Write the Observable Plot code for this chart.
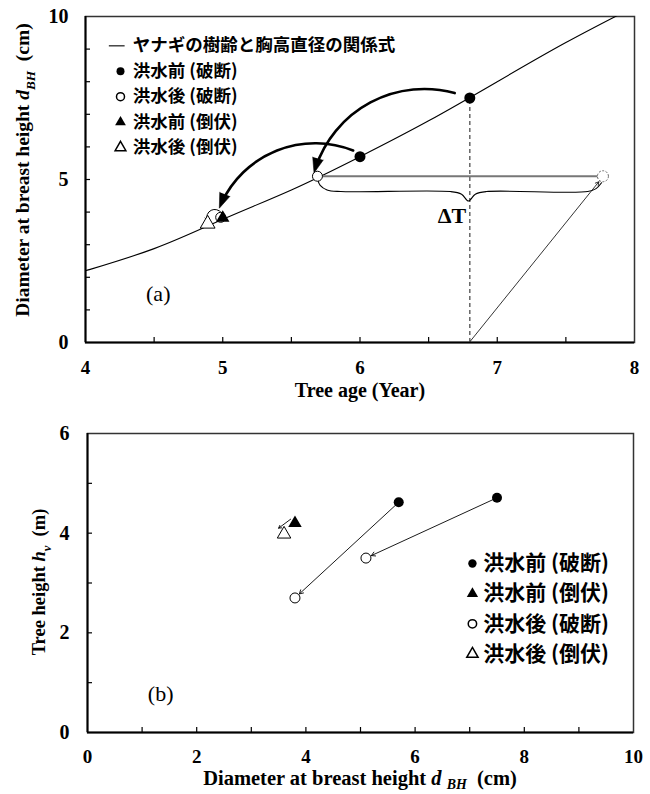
<!DOCTYPE html>
<html><head><meta charset="utf-8">
<script src="https://cdn.jsdelivr.net/npm/d3@7"></script>
<script src="https://cdn.jsdelivr.net/npm/@observablehq/plot@0.6"></script>
<style>
body{margin:0;background:#fff;width:650px;}
#a,#b{width:650px;height:auto;}
svg{display:block;}
</style>
</head><body>
<div id="a"></div><div id="b"></div>
<script>
// ===== Panel (a): tree age vs DBH =====
const ageTicks = [4, 5, 6, 7, 8];
const ageMinorTicks = [4.5, 5, 5.5, 6, 6.5, 7, 7.5];
const dbhTicks = [0, 5, 10];
const dbhMinorTicks = [1, 2, 3, 4, 5, 6, 7, 8, 9];

// relation curve
const curveAge = [3.95, 4.0, 4.5, 5.0, 5.5, 6.0, 6.5, 7.0, 7.5, 8.0];
const curveDbh = [2.12, 2.2, 2.88, 3.78, 4.68, 5.7, 6.8, 8.0, 9.2, 10.3];

// points
const aBeforeBreakAge = [6.8, 6.0];
const aBeforeBreakDbh = [7.5, 5.7];
const aAfterBreakAge = [5.69, 4.985];
const aAfterBreakDbh = [5.1, 3.84];
const aBeforeFallAge = [5.0];
const aBeforeFallDbh = [3.82];
const aAfterFallAge = [4.89];
const aAfterFallDbh = [3.64];
const aShiftedAge = [7.77];
const aShiftedDbh = [5.1];

// annotations
const arcStartAge = [6.69, 5.95];
const arcStartDbh = [7.65, 5.89];
const arcEndAge = [5.665, 4.975];
const arcEndDbh = [5.2, 4.12];
const arcBend = -45;
const loopStartAge = [4.99];
const loopStartDbh = [3.98];
const loopEndAge = [4.885];
const loopEndDbh = [3.76];
const guideAge = [6.8];
const guideTop = [7.5];
const slantStartAge = [6.8], slantStartDbh = [0.02];
const slantEndAge = [7.74], slantEndDbh = [4.93];
const braceAge = [5.69, 5.71, 5.76, 5.86, 6.66, 6.74, 6.79, 6.84, 6.92, 7.66, 7.72, 7.76];
const braceDbh = [5.02, 4.82, 4.68, 4.63, 4.63, 4.55, 4.34, 4.55, 4.63, 4.63, 4.72, 4.9];
const deltaLabel = ["ΔT"];
const deltaAge = [6.67], deltaDbh = [3.87];
const panelA = ["(a)"];

const legendA = ["ヤナギの樹齢と胸高直径の関係式", "洪水前 (破断)", "洪水後 (破断)", "洪水前 (倒伏)", "洪水後 (倒伏)"];

// ===== Panel (b): DBH vs tree height =====
const dTicks = [0, 2, 4, 6, 8, 10];
const dMinorTicks = [1, 2, 3, 4, 5, 6, 7, 8, 9];
const hTicks = [0, 2, 4, 6];
const hMinorTicks = [1, 2, 3, 4, 5];

const bBeforeBreakD = [5.7, 7.5];
const bBeforeBreakH = [4.62, 4.71];
const bAfterBreakD = [3.8, 5.1];
const bAfterBreakH = [2.7, 3.5];
const bBeforeFallD = [3.8];
const bBeforeFallH = [4.2];
const bAfterFallD = [3.6];
const bAfterFallH = [3.98];
const bArrowFromD = [3.72];
const bArrowFromH = [4.28];
const bArrowToD = [3.5];
const bArrowToH = [4.1];
const panelB = ["(b)"];

const legendB = ["洪水前 (破断)", "洪水前 (倒伏)", "洪水後 (破断)", "洪水後 (倒伏)"];

const zip = (xs, ys) => xs.map((x, i) => ({x, y: ys[i]}));
const serif = "'Liberation Serif','Times New Roman',serif";
const cjk = "'Noto Sans CJK JP','Noto Sans CJK SC',sans-serif";

// ---------- chart (a) ----------
const A = {w: 650, h: 400, mt: 16, mb: 58, ml: 85, mr: 16};
const aFrameW = A.w - A.ml - A.mr, aFrameH = A.h - A.mt - A.mb;
const legAx = 4.255, legAtx = 4.345, legAy0 = 9.1, legAstep = 0.78;
const legARows = legendA.map((t, i) => ({t, x: legAtx, y: legAy0 - i * legAstep}));

// same linear mapping as the plot, used only to orient the filled arrow heads
const sxA = d3.scaleLinear([4, 8], [A.ml, A.w - A.mr]);
const syA = d3.scaleLinear([0, 10], [A.h - A.mb, A.mt]);
const arcs = arcStartAge.map((x, i) => {
  const dx = sxA(arcEndAge[i]) - sxA(x), dy = syA(arcEndDbh[i]) - syA(arcStartDbh[i]);
  const chord = Math.atan2(dy, dx) * 180 / Math.PI;
  return {x1: x, y1: arcStartDbh[i], x2: arcEndAge[i], y2: arcEndDbh[i], rot: chord + arcBend + 90};
});

const chartA = Plot.plot({
  width: A.w, height: A.h,
  marginTop: A.mt, marginBottom: A.mb, marginLeft: A.ml, marginRight: A.mr,
  x: {domain: [4, 8]}, y: {domain: [0, 10]},
  style: {fontFamily: serif, fontSize: "19px", fontWeight: "bold", color: "black", background: "white", overflow: "visible"},
  marks: [
    Plot.frame({stroke: "#333", strokeWidth: 1.5}),
    Plot.ruleY([0], {stroke: "black", strokeWidth: 2}),
    Plot.ruleX([4], {stroke: "black", strokeWidth: 2}),
    Plot.tickX(ageMinorTicks, {x: d => d, insetTop: aFrameH - 5, strokeWidth: 1.2}),
    Plot.tickY(dbhMinorTicks, {y: d => d, insetRight: aFrameW - 5, strokeWidth: 1.2}),
    Plot.axisX({ticks: ageTicks, tickSize: 0, tickPadding: 18, label: null, fontSize: 19, fontWeight: "bold", tickFormat: d => d}),
    Plot.axisY({ticks: dbhTicks, tickSize: 0, tickPadding: 17, label: null, fontSize: 20, fontWeight: "bold", tickFormat: d => d}),
    // relation curve
    Plot.line(zip(curveAge, curveDbh), {x: "x", y: "y", curve: "natural", stroke: "black", strokeWidth: 1.1, clip: true}),
    // guides
    Plot.ruleX(zip(guideAge, guideTop), {x: "x", y1: 0, y2: "y", stroke: "#666", strokeWidth: 1.5, strokeDasharray: "4,3"}),
    Plot.link(zip(aAfterBreakAge.slice(0, 1), aAfterBreakDbh.slice(0, 1)), {x1: "x", y1: "y", x2: aShiftedAge[0], y2: aShiftedDbh[0], stroke: "#777", strokeWidth: 2}),
    Plot.line(zip(braceAge, braceDbh), {x: "x", y: "y", curve: "catmull-rom", stroke: "black", strokeWidth: 1.1}),
    Plot.arrow(slantStartAge.map((x, i) => ({x1: x, y1: slantStartDbh[i], x2: slantEndAge[i], y2: slantEndDbh[i]})),
      {x1: "x1", y1: "y1", x2: "x2", y2: "y2", stroke: "black", strokeWidth: 0.8, headLength: 7}),
    Plot.text(deltaLabel, {x: deltaAge[0], y: deltaDbh[0], text: d => d, fontSize: 22, fontWeight: "bold", fontFamily: serif}),
    // curved arrows with filled heads
    Plot.arrow(arcs, {x1: "x1", y1: "y1", x2: "x2", y2: "y2", bend: arcBend, stroke: "black", strokeWidth: 2.6, headLength: 0, insetEnd: 6}),
    Plot.vector(arcs, {x: "x2", y: "y2", rotate: "rot", length: 15, r: 5.5, shape: "spike", anchor: "end", fill: "black", stroke: "black", strokeWidth: 0.5}),
    Plot.arrow(loopStartAge.map((x, i) => ({x1: x, y1: loopStartDbh[i], x2: loopEndAge[i], y2: loopEndDbh[i]})),
      {x1: "x1", y1: "y1", x2: "x2", y2: "y2", bend: -80, stroke: "black", strokeWidth: 1, headLength: 4}),
    // points
    Plot.dot(zip(aShiftedAge, aShiftedDbh), {x: "x", y: "y", r: 5.5, stroke: "#666", strokeDasharray: "2,1.5", fill: "white", strokeWidth: 1}),
    Plot.dot(zip(aAfterFallAge, aAfterFallDbh), {x: "x", y: "y", symbol: "triangle", r: 5.5, stroke: "black", fill: "white", strokeWidth: 1}),
    Plot.dot(zip(aAfterBreakAge, aAfterBreakDbh), {x: "x", y: "y", r: 5, stroke: "black", fill: "white", strokeWidth: 1}),
    Plot.dot(zip(aBeforeFallAge, aBeforeFallDbh), {x: "x", y: "y", symbol: "triangle", r: 5, fill: "black", stroke: "none"}),
    Plot.dot(zip(aBeforeBreakAge, aBeforeBreakDbh), {x: "x", y: "y", r: 5.5, fill: "black", stroke: "none"}),
    // panel label
    Plot.text(panelA, {x: 4.53, y: 1.5, text: d => d, fontSize: 22, fontWeight: "normal", fontFamily: serif}),
    // legend
    Plot.link([0], {x1: 4.17, x2: 4.285, y1: legAy0, y2: legAy0, stroke: "black", strokeWidth: 1.1}),
    Plot.dot([0], {x: legAx, y: legAy0 - legAstep, r: 4, fill: "black"}),
    Plot.dot([0], {x: legAx, y: legAy0 - 2 * legAstep, r: 4, fill: "white", stroke: "black"}),
    Plot.dot([0], {x: legAx, y: legAy0 - 3 * legAstep, r: 4, symbol: "triangle", fill: "black"}),
    Plot.dot([0], {x: legAx, y: legAy0 - 4 * legAstep, r: 4, symbol: "triangle", fill: "white", stroke: "black"}),
    Plot.text(legARows, {x: "x", y: "y", text: "t", textAnchor: "start", fontSize: 17.5, fontWeight: "bold", fontFamily: cjk})
  ]
});

// ---------- chart (b) ----------
const B = {w: 650, h: 394, mt: 33, mb: 62, ml: 87, mr: 17};
const bFrameW = B.w - B.ml - B.mr, bFrameH = B.h - B.mt - B.mb;
const legBx = 7.05, legBtx = 7.25, legBy0 = 3.39, legBstep = 0.605;
const legBRows = legendB.map((t, i) => ({t, x: legBtx, y: legBy0 - i * legBstep}));

const chartB = Plot.plot({
  width: B.w, height: B.h,
  marginTop: B.mt, marginBottom: B.mb, marginLeft: B.ml, marginRight: B.mr,
  x: {domain: [0, 10]}, y: {domain: [0, 6]},
  style: {fontFamily: serif, fontSize: "19px", fontWeight: "bold", color: "black", background: "white", overflow: "visible"},
  marks: [
    Plot.frame({stroke: "#333", strokeWidth: 1.5}),
    Plot.ruleY([0], {stroke: "black", strokeWidth: 2}),
    Plot.ruleX([0], {stroke: "black", strokeWidth: 2}),
    Plot.tickX(dMinorTicks, {x: d => d, insetTop: bFrameH - 5, strokeWidth: 1.2}),
    Plot.tickY(hMinorTicks, {y: d => d, insetRight: bFrameW - 5, strokeWidth: 1.2}),
    Plot.axisX({ticks: dTicks, tickSize: 0, tickPadding: 17, label: null, fontSize: 19, fontWeight: "bold", tickFormat: d => d}),
    Plot.axisY({ticks: hTicks, tickSize: 0, tickPadding: 18, label: null, fontSize: 20, fontWeight: "bold", tickFormat: d => d}),
    Plot.arrow(bBeforeBreakD.map((x, i) => ({x1: x, y1: bBeforeBreakH[i], x2: bAfterBreakD[i], y2: bAfterBreakH[i]})),
      {x1: "x1", y1: "y1", x2: "x2", y2: "y2", stroke: "black", strokeWidth: 0.9, headLength: 7, insetStart: 4, insetEnd: 6}),
    Plot.arrow(bArrowFromD.map((x, i) => ({x1: x, y1: bArrowFromH[i], x2: bArrowToD[i], y2: bArrowToH[i]})),
      {x1: "x1", y1: "y1", x2: "x2", y2: "y2", stroke: "black", strokeWidth: 0.9, headLength: 5}),
    Plot.dot(zip(bBeforeBreakD, bBeforeBreakH), {x: "x", y: "y", r: 5, fill: "black"}),
    Plot.dot(zip(bAfterBreakD, bAfterBreakH), {x: "x", y: "y", r: 5, fill: "white", stroke: "black", strokeWidth: 1}),
    Plot.dot(zip(bBeforeFallD, bBeforeFallH), {x: "x", y: "y", r: 5, symbol: "triangle", fill: "black"}),
    Plot.dot(zip(bAfterFallD, bAfterFallH), {x: "x", y: "y", r: 5, symbol: "triangle", fill: "white", stroke: "black", strokeWidth: 1}),
    Plot.text(panelB, {x: 1.34, y: 0.78, text: d => d, fontSize: 22, fontWeight: "normal", fontFamily: serif}),
    Plot.dot([0], {x: legBx, y: legBy0, r: 4.2, fill: "black"}),
    Plot.dot([0], {x: legBx, y: legBy0 - legBstep, r: 4.2, symbol: "triangle", fill: "black"}),
    Plot.dot([0], {x: legBx, y: legBy0 - 2 * legBstep, r: 4.2, fill: "white", stroke: "black"}),
    Plot.dot([0], {x: legBx, y: legBy0 - 3 * legBstep, r: 4.2, symbol: "triangle", fill: "white", stroke: "black"}),
    Plot.text(legBRows, {x: "x", y: "y", text: "t", textAnchor: "start", fontSize: 21, fontWeight: "bold", fontFamily: cjk})
  ]
});

// rich axis titles (italic symbols and subscripts)
function richText(svg, x, y, rotate, size, parts, subShift = 0.3) {
  const t = d3.select(svg).append("text")
    .attr("transform", `translate(${x},${y}) rotate(${rotate})`)
    .attr("text-anchor", "middle")
    .attr("font-family", serif).attr("font-weight", "bold")
    .attr("font-size", size).attr("fill", "black");
  let shift = 0;
  for (const p of parts) {
    const s = t.append("tspan").text(p.text);
    if (p.italic) s.attr("font-style", "italic");
    const target = p.sub ? size * subShift : 0;
    if (target !== shift) { s.attr("dy", target - shift); shift = target; }
    if (p.sub) s.attr("font-size", size * 0.68);
  }
}
const titleAgeX = [{text: "Tree age (Year)"}];
const titleDbh = [{text: "Diameter at breast height "}, {text: "d", italic: true}, {text: "BH", italic: true, sub: true}, {text: "  (cm)"}];
const titleDbhB = [{text: "Diameter at breast height "}, {text: "d", italic: true}, {text: " "}, {text: "BH", italic: true, sub: true}, {text: "  (cm)"}];
const titleH = [{text: "Tree height "}, {text: "h", italic: true}, {text: "v", italic: true, sub: true}, {text: "  (m)"}];

richText(chartA, 360, 397, 0, 20, titleAgeX);
richText(chartA, 29, 170, -90, 19.5, titleDbh);
richText(chartB, 360, 385, 0, 20.5, titleDbhB, 0.2);
richText(chartB, 45, 182, -90, 18.5, titleH);

document.getElementById("a").appendChild(chartA);
document.getElementById("b").appendChild(chartB);
</script>
</body></html>
